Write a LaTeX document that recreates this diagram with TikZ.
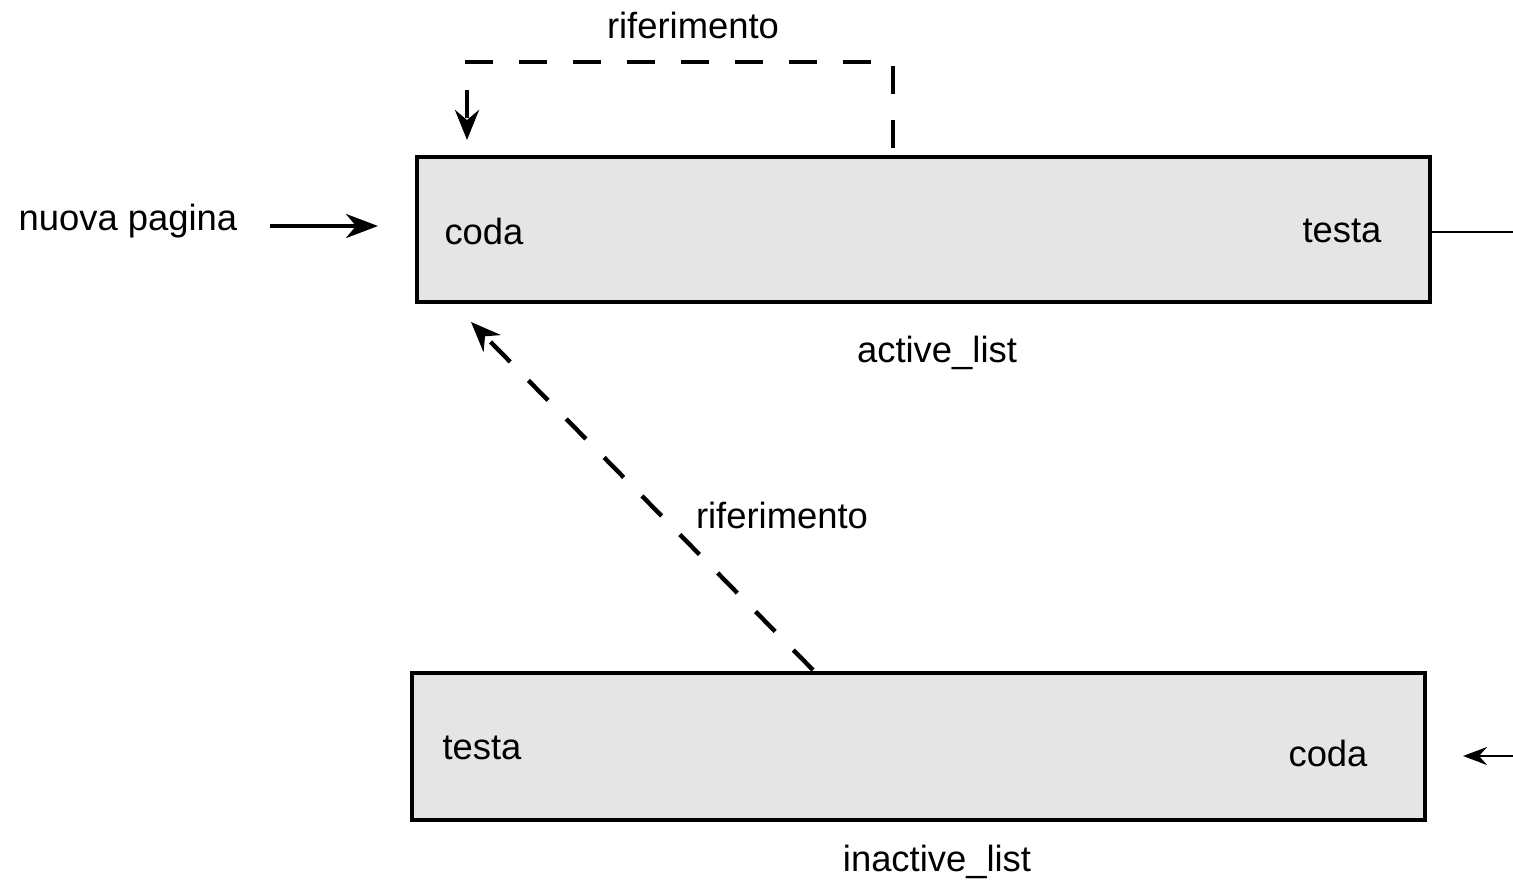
\documentclass[tikz,border=0pt]{standalone}
\usepackage{fontspec}
\setmainfont{Liberation Sans}
\usetikzlibrary{arrows.meta}
\begin{document}
\begin{tikzpicture}[x=0.5pt,y=-0.5pt,
  lbl/.style={inner sep=0pt, font=\fontsize{18.2}{21}\selectfont},
  listbox/.style={draw=black, line width=2.2pt, fill=black!10, inner sep=0pt},
  arr/.style={line width=2pt, -{Stealth[length=16pt,width=12pt,inset=5pt]}},
  dashedarr/.style={line width=2.2pt, dash pattern=on 14pt off 13pt, -{Stealth[length=15pt,width=12pt,inset=5pt]}},
  thinline/.style={line width=1.3pt}]
\useasboundingbox (0,0) rectangle (1513,882);
% boxes
\node[listbox, minimum width=506.5pt, minimum height=72.5pt] (active) at (923.5,229.5) {};
\node[listbox, minimum width=506.5pt, minimum height=73.5pt] (inactive) at (918.5,746.5) {};
% texts
\node[lbl] (rif1) at (693,25) {riferimento};
\node[lbl] (nuova) at (128,221) {nuova pagina};
\node[lbl] (codaA) at (484,231) {coda};
\node[lbl] (testaA) at (1342,231) {testa};
\node[lbl] (activeL) at (937,353) {active\_list};
\node[lbl] (rif2) at (782,515) {riferimento};
\node[lbl] (testaI) at (482,748) {testa};
\node[lbl] (codaI) at (1328,753) {coda};
\node[lbl] (inactiveL) at (937,862) {inactive\_list};
% coordinates
\coordinate (loopS) at (893,148);
\coordinate (loopA) at (893,62);
\coordinate (loopB) at (467,62);
\coordinate (loopE) at (467,140);
\coordinate (inS) at (270,226);
\coordinate (inE) at (378,226);
\coordinate (diagS) at (813,670);
\coordinate (diagE) at (471,322);
\coordinate (rightEnd) at (1513,232);
\coordinate (rightStart) at (1513,756);
\coordinate (rightArrE) at (1463,756);
% connectors
\draw[dashedarr] (loopS) -- (loopA) -- (loopB) -- (loopE);
\draw[arr] (inS) -- (inE);
\draw[dashedarr] (diagS) -- (diagE);
\draw[thinline] (active.east |- rightEnd) -- (rightEnd);
\draw[thinline, -{Stealth[length=12pt,width=9pt,inset=4pt]}] (rightStart) -- (rightArrE);
\end{tikzpicture}
\end{document}
